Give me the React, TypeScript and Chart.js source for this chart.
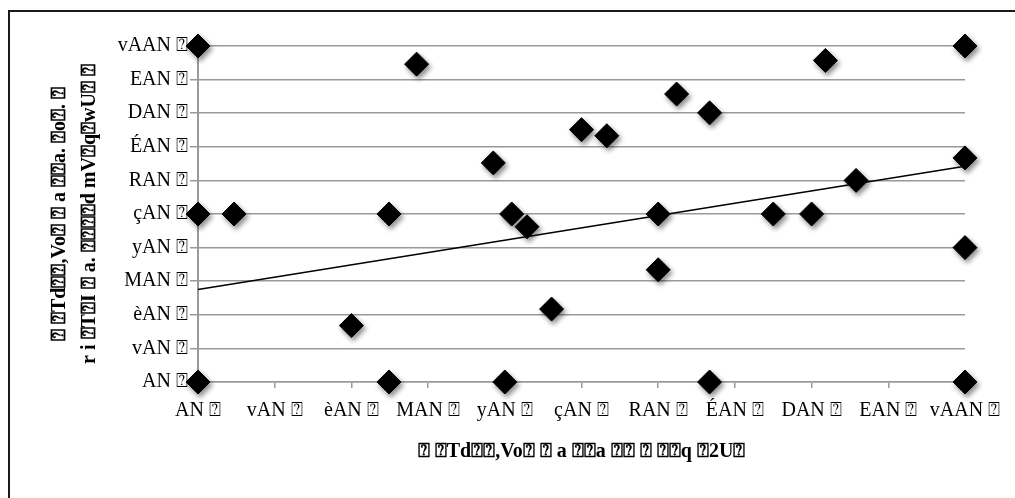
import React, { useEffect, useRef } from "react";
import { Chart, registerables } from "chart.js";

Chart.register(...registerables);

const xValues = [0, 0, 0, 4.7, 20, 24.9, 24.9, 28.5, 38.5, 40.9, 40, 42.9, 46.1, 50, 53.3, 60, 60, 62.4, 66.7, 66.7, 75, 80, 81.8, 85.8, 100, 100, 100, 100];
const yValues = [100, 50, 0, 50, 16.8, 50, 0, 94.6, 65.2, 50, 0, 46.2, 21.7, 75.1, 73.3, 50, 33.4, 85.7, 80.1, 0, 50, 50, 95.7, 60, 100, 66.7, 40, 0];

const trendX = [0, 100];
const trendY = [27.5, 64.2];

const tickLabels = ["AN ⍰", "vAN ⍰", "èAN ⍰", "MAN ⍰", "yAN ⍰", "çAN ⍰", "RAN ⍰", "ÉAN ⍰", "DAN ⍰", "EAN ⍰", "vAAN ⍰"];

const xTitle = "⍰ ⍰Td⍰⍰,Vo⍰ ⍰ a ⍰⍰a ⍰⍰ ⍰ ⍰⍰q ⍰2U⍰";
const yTitle = ["⍰ ⍰Td⍰⍰,Vo⍰ ⍰ a ⍰⍰a. ⍰o⍰. ⍰", "r i ⍰T⍰I ⍰ a. ⍰⍰⍰⍰d mV⍰q⍰wU⍰ ⍰"];

const GRID = "#9a9a9a";
const FONT = "'Liberation Serif', 'Times New Roman', serif";

const shadowPlugin = {
  id: "markerShadow",
  beforeDatasetDraw(chart: any, args: any) {
    if (args.index !== 1) return;
    const ctx = chart.ctx;
    ctx.save();
    ctx.shadowColor = "rgba(0,0,0,0.45)";
    ctx.shadowBlur = 5;
    ctx.shadowOffsetX = 2;
    ctx.shadowOffsetY = 3;
  },
  afterDatasetDraw(chart: any, args: any) {
    if (args.index !== 1) return;
    chart.ctx.restore();
  },
};

const framePlugin = {
  id: "frame",
  beforeDraw(chart: any) {
    const ctx = chart.ctx;
    ctx.save();
    ctx.fillStyle = "#ffffff";
    ctx.fillRect(0, 0, chart.width, chart.height);
    ctx.strokeStyle = "#1a1a1a";
    ctx.lineWidth = 2;
    ctx.beginPath();
    ctx.moveTo(9, chart.height + 5);
    ctx.lineTo(9, 11);
    ctx.lineTo(chart.width + 5, 11);
    ctx.stroke();
    ctx.restore();
  },
};

export default function App() {
  const ref = useRef<HTMLCanvasElement | null>(null);

  useEffect(() => {
    document.body.style.margin = "0";
    const canvas = ref.current;
    if (!canvas) return;
    const chart = new Chart(canvas, {
      data: {
        datasets: [
          {
            type: "line",
            label: "trend",
            data: trendX.map((x, i) => ({ x, y: trendY[i] })),
            borderColor: "#000000",
            borderWidth: 1.5,
            pointRadius: 0,
            fill: false,
            clip: false,
          },
          {
            type: "scatter",
            label: "data",
            data: xValues.map((x, i) => ({ x, y: yValues[i] })),
            pointStyle: "rectRot",
            pointRadius: 12,
            pointBorderWidth: 1,
            backgroundColor: "#000000",
            borderColor: "#000000",
            clip: false,
          },
        ],
      },
      options: {
        animation: false,
        responsive: false,
        maintainAspectRatio: false,
        layout: { padding: { left: 0, right: 50, top: 46, bottom: 0 }, autoPadding: false },
        plugins: { legend: { display: false }, tooltip: { enabled: false } },
        scales: {
          x: {
            type: "linear",
            position: "bottom",
            min: 0,
            max: 100,
            afterFit(scale: any) {
              scale.height = 116;
            },
            ticks: {
              stepSize: 10,
              autoSkip: false,
              maxRotation: 0,
              padding: 11,
              color: "#000000",
              font: { family: FONT, size: 20 },
              callback: (v: any) => tickLabels[Math.round(Number(v) / 10)] ?? "",
            },
            grid: { drawOnChartArea: false, drawTicks: true, tickLength: 6, color: GRID, lineWidth: 1.5 },
            border: { display: true, color: GRID, width: 1.5 },
            title: {
              display: true,
              text: xTitle,
              color: "#000000",
              font: { family: FONT, size: 20, weight: "bold" },
              padding: { top: 0, bottom: 34 },
            },
          },
          y: {
            type: "linear",
            position: "left",
            min: 0,
            max: 100,
            afterFit(scale: any) {
              scale.width = 198;
            },
            ticks: {
              stepSize: 10,
              autoSkip: false,
              padding: 2,
              color: "#000000",
              font: { family: FONT, size: 20 },
              callback: (v: any) => tickLabels[Math.round(Number(v) / 10)] ?? "",
            },
            grid: { drawTicks: true, tickLength: 8, color: GRID, lineWidth: 1.5 },
            border: { display: true, color: GRID, width: 2 },
            title: {
              display: true,
              text: yTitle,
              color: "#000000",
              font: { family: FONT, size: 20, weight: "bold", lineHeight: 1.5 },
              padding: { top: 45, bottom: 0 },
            },
          },
        },
      },
      plugins: [framePlugin, shadowPlugin],
    } as any);
    return () => chart.destroy();
  }, []);

  return <canvas ref={ref} width={1015} height={498} style={{ display: "block", width: 1015, height: 498 }} />;
}
